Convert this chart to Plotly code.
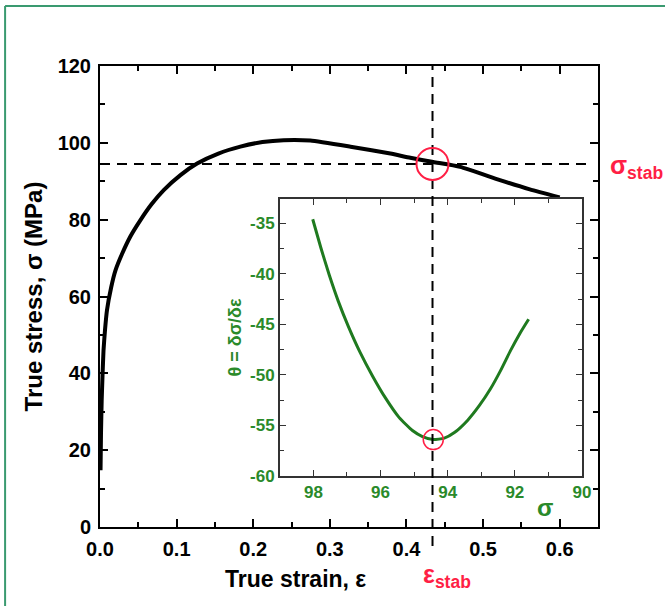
import plotly.graph_objects as go

# Main curve: true stress vs true strain
strain = [0.0007, 0.0013, 0.0022, 0.0033, 0.0046, 0.0065, 0.0091, 0.0146, 0.0202, 0.029, 0.0398,
          0.0528, 0.0672, 0.0832, 0.105, 0.1267, 0.1545, 0.1832, 0.212, 0.2397, 0.2745,
          0.327, 0.379, 0.405, 0.435, 0.470, 0.522, 0.561, 0.600]
stress = [14.8, 24.4, 33.0, 39.5, 46.0, 51.2, 56.4, 62.4, 66.8, 71.2, 75.7,
          79.9, 84.0, 87.7, 91.6, 94.6, 97.2, 99.0, 100.2, 100.7, 100.6,
          99.0, 97.2, 96.1, 95.0, 93.75, 90.3, 87.9, 85.8]

# Inset: theta = dsigma/deps vs sigma
inset_sigma = [98.02, 97.78, 97.53, 97.26, 96.96, 96.62, 96.24, 95.85, 95.45, 95.05, 94.75, 94.43,
               94.1, 93.8, 93.41, 93.05, 92.73, 92.43, 92.13, 91.85, 91.59]
inset_theta = [-34.6, -37.4, -40.1, -42.7, -45.2, -47.7, -50.1, -52.3, -54.2, -55.5, -56.1, -56.4,
               -56.25, -55.7, -54.5, -53.0, -51.4, -49.6, -47.6, -45.9, -44.5]

eps_stab = 0.434
sig_stab = 94.5
theta_min = -56.4
sig_min = 94.43

main_x_ticks = [0.0, 0.1, 0.2, 0.3, 0.4, 0.5, 0.6]
main_y_ticks = [0, 20, 40, 60, 80, 100, 120]
inset_x_ticks = [98, 96, 94, 92, 90]
inset_y_ticks = [-60, -55, -50, -45, -40, -35]

FONT = "Liberation Sans, Arial, sans-serif"
GREEN = "#2a8a2a"
RED = "#ff1f45"

fig = go.Figure()
fig.add_trace(go.Scatter(x=strain, y=stress, mode="lines",
                         line=dict(color="black", width=4, shape="spline", smoothing=0.5),
                         xaxis="x", yaxis="y", showlegend=False))
fig.add_trace(go.Scatter(x=inset_sigma, y=inset_theta, mode="lines",
                         line=dict(color="#1f7a1f", width=3, shape="spline", smoothing=0.5),
                         xaxis="x2", yaxis="y2", showlegend=False))

L, R, T, B = 99.5, 67, 66, 79
W, H = 665, 606
pw = W - L - R
ph = H - T - B

def px(xp):
    return (xp - L) / pw

def py(yp):
    return (H - B - yp) / ph

main_axis = dict(showline=True, linecolor="black", linewidth=2, mirror="ticks", ticks="inside",
                 ticklen=8, tickwidth=1.5, tickcolor="black", showgrid=False, zeroline=False,
                 tickfont=dict(family=FONT, size=20, color="black", weight="bold"))

inset_axis = dict(showline=True, linecolor="#333", linewidth=1.5, mirror="ticks", ticks="inside",
                  ticklen=6, tickcolor="#333", showgrid=False, zeroline=False,
                  tickfont=dict(family=FONT, size=17, color=GREEN, weight="bold"))

fig.update_layout(
    width=W, height=H, margin=dict(l=L, r=R, t=T, b=B),
    paper_bgcolor="white", plot_bgcolor="white",
    xaxis=dict(range=[0, 0.65], tickvals=main_x_ticks, ticktext=[f"{v:.1f}" for v in main_x_ticks],
               ticklabelstandoff=3,
               minor=dict(dtick=0.05, ticks="inside", ticklen=5, tickcolor="black"), **main_axis),
    yaxis=dict(range=[0, 120], tickvals=main_y_ticks, ticklabelstandoff=3,
               minor=dict(dtick=10, ticks="inside", ticklen=5, tickcolor="black"),
               title=dict(text="True stress, σ (MPa)", standoff=8,
                          font=dict(family=FONT, size=24, color="black", weight="bold")),
               **main_axis),
    xaxis2=dict(domain=[px(279.5), px(582)], anchor="y2", range=[99, 90], tickvals=inset_x_ticks,
                minor=dict(dtick=1, ticks="inside", ticklen=4, tickcolor="#333"), **inset_axis),
    yaxis2=dict(domain=[py(476), py(199)], anchor="x2", range=[-60, -32.6], tickvals=inset_y_ticks,
                ticktext=[f"-{abs(v)}" for v in inset_y_ticks],
                minor=dict(dtick=2.5, ticks="inside", ticklen=4, tickcolor="#333"),
                title=dict(text="θ = δσ/δε", standoff=4,
                           font=dict(family=FONT, size=18, color=GREEN, weight="bold")),
                **inset_axis),
)

shapes = [
    dict(type="rect", xref="x2 domain", yref="y2 domain", x0=0, x1=1, y0=0, y1=1,
         fillcolor="white", line=dict(width=0), layer="below"),
    dict(type="line", xref="x", yref="paper", x0=eps_stab, x1=eps_stab, y0=py(546), y1=1,
         line=dict(color="black", width=2, dash="10px,7px")),
    dict(type="line", xref="paper", yref="y", x0=0, x1=px(590), y0=sig_stab, y1=sig_stab,
         line=dict(color="black", width=2, dash="10px,7px")),
    dict(type="circle", xref="x", yref="y", xsizemode="pixel", ysizemode="pixel",
         xanchor=eps_stab, yanchor=sig_stab, x0=-16, x1=16, y0=-16, y1=16,
         line=dict(color=RED, width=2)),
    dict(type="circle", xref="x2", yref="y2", xsizemode="pixel", ysizemode="pixel",
         xanchor=sig_min, yanchor=theta_min, x0=-10, x1=10, y0=-10, y1=10,
         line=dict(color=RED, width=1.5)),
    dict(type="line", xref="paper", yref="paper", x0=px(4.5), x1=px(4.5), y0=py(610), y1=py(6),
         line=dict(color="#3a9a70", width=2)),
    dict(type="line", xref="paper", yref="paper", x0=px(4.5), x1=px(670), y0=py(6), y1=py(6),
         line=dict(color="#3a9a70", width=2)),
]
fig.update_layout(shapes=shapes)

annotations = [
    dict(text="True strain, ε", xref="paper", yref="paper", x=px(295), y=py(579),
         xanchor="center", yanchor="middle",
         showarrow=False, font=dict(family=FONT, size=23, color="black", weight="bold")),
    dict(text="ε<sub>stab</sub>", xref="paper", yref="paper", x=px(447), y=py(576),
         xanchor="center", yanchor="middle",
         showarrow=False, font=dict(family=FONT, size=25, color=RED, weight="bold")),
    dict(text="σ<sub>stab</sub>", xref="paper", yref="paper", x=px(637), y=py(167),
         xanchor="center", yanchor="middle",
         showarrow=False, font=dict(family=FONT, size=25, color=RED, weight="bold")),
    dict(text="σ", xref="paper", yref="paper", x=px(545), y=py(507),
         xanchor="center", yanchor="middle",
         showarrow=False, font=dict(family=FONT, size=24, color=GREEN, weight="bold")),
]
fig.update_layout(annotations=annotations)

fig.write_html("out.html", config={"displayModeBar": False},
               post_script="document.body.style.margin='0';document.body.style.overflow='hidden';")
